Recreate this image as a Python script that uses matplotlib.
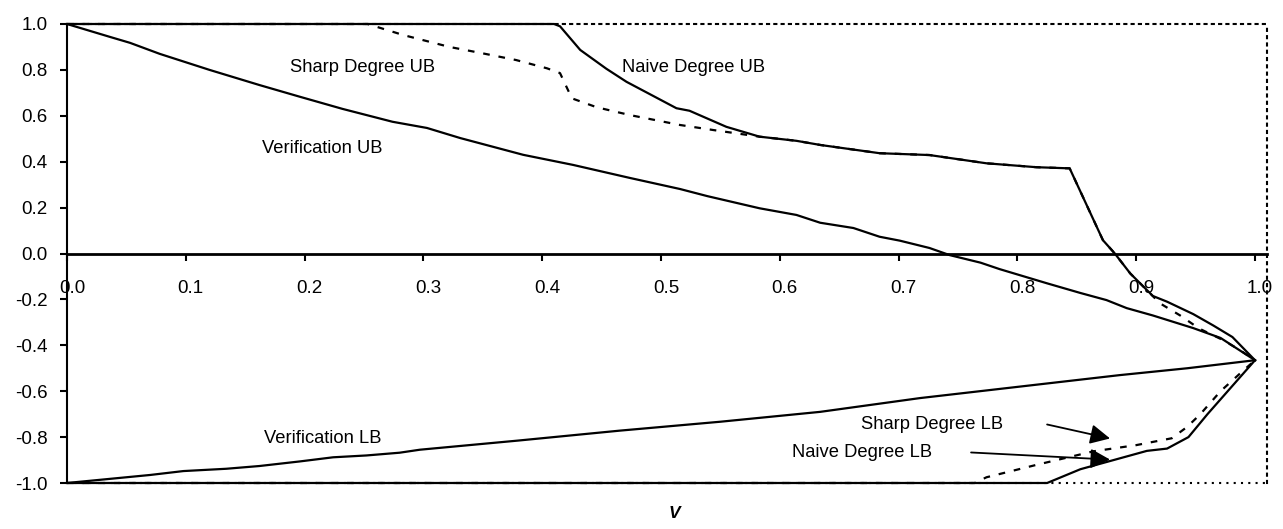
import numpy as np
import matplotlib
matplotlib.use("Agg")
import matplotlib.pyplot as plt
from matplotlib.transforms import ScaledTranslation

plt.rcParams['font.family'] = ['Liberation Sans', 'DejaVu Sans']
plt.rcParams['axes.unicode_minus'] = False

# Datos
v_ver_ub = [0, 0.036, 0.053, 0.078, 0.12, 0.162, 0.196, 0.232, 0.274, 0.303, 0.331, 0.384, 0.426,
            0.474, 0.516, 0.539, 0.583, 0.614, 0.634, 0.662, 0.684, 0.701, 0.726, 0.743, 0.769,
            0.785, 0.825, 0.853, 0.875, 0.892, 0.914, 0.948, 0.971, 1.0]
ver_ub = [1.0, 0.944, 0.918, 0.87, 0.80, 0.734, 0.683, 0.63, 0.574, 0.547, 0.503, 0.43, 0.386,
          0.329, 0.281, 0.25, 0.197, 0.168, 0.134, 0.111, 0.073, 0.056, 0.024, -0.007, -0.04,
          -0.068, -0.13, -0.172, -0.203, -0.238, -0.27, -0.325, -0.368, -0.465]

v_ver_lb = [0, 0.028, 0.07, 0.098, 0.134, 0.162, 0.196, 0.224, 0.252, 0.28, 0.297, 0.38, 0.465,
            0.55, 0.634, 0.718, 0.802, 0.886, 0.943, 1.0]
ver_lb = [-1.0, -0.986, -0.965, -0.948, -0.938, -0.926, -0.906, -0.888, -0.88, -0.868, -0.855,
          -0.815, -0.772, -0.733, -0.69, -0.63, -0.58, -0.53, -0.50, -0.465]

v_naive_ub = [0, 0.41, 0.415, 0.432, 0.454, 0.471, 0.513, 0.524, 0.555, 0.583, 0.614, 0.634, 0.684,
              0.726, 0.774, 0.816, 0.844, 0.872, 0.882, 0.895, 0.914, 0.926, 0.948, 0.965, 0.981, 1.0]
naive_ub = [1.0, 1.0, 0.99, 0.887, 0.805, 0.748, 0.633, 0.622, 0.552, 0.509, 0.491, 0.473, 0.437,
            0.429, 0.393, 0.376, 0.371, 0.058, 0.0, -0.087, -0.185, -0.21, -0.264, -0.314, -0.364, -0.465]

v_sharp_ub = [0, 0.253, 0.283, 0.322, 0.35, 0.378, 0.404, 0.415, 0.425, 0.446, 0.474, 0.516, 0.544,
              0.583, 0.614, 0.634, 0.684, 0.726, 0.774, 0.816, 0.844, 0.872, 0.882, 0.895, 0.92,
              0.937, 0.953, 0.973, 0.987, 1.0]
sharp_ub = [1.0, 1.0, 0.952, 0.90, 0.872, 0.843, 0.807, 0.786, 0.676, 0.637, 0.603, 0.56, 0.538,
            0.509, 0.491, 0.473, 0.437, 0.429, 0.393, 0.376, 0.371, 0.058, 0.0, -0.087, -0.217,
            -0.27, -0.327, -0.377, -0.42, -0.465]

v_sharp_lb = [0, 0.764, 0.774, 0.816, 0.864, 0.9, 0.93, 0.943, 0.954, 0.971, 0.988, 1.0]
sharp_lb = [-1.0, -1.0, -0.975, -0.921, -0.862, -0.835, -0.805, -0.755, -0.70, -0.60, -0.52, -0.465]

v_naive_lb = [0, 0.825, 0.853, 0.881, 0.909, 0.926, 0.944, 0.96, 1.0]
naive_lb = [-1.0, -1.0, -0.94, -0.90, -0.86, -0.85, -0.80, -0.70, -0.465]

x_ticks = [0.0, 0.1, 0.2, 0.3, 0.4, 0.5, 0.6, 0.7, 0.8, 0.9, 1.0]
y_ticks = [-1.0, -0.8, -0.6, -0.4, -0.2, 0.0, 0.2, 0.4, 0.6, 0.8, 1.0]

# Etiquetas: (texto, x, y)
etiquetas = [("Sharp Degree UB", 0.249, 0.81),
             ("Naive Degree UB", 0.527, 0.81),
             ("Verification UB", 0.215, 0.457),
             ("Verification LB", 0.215, -0.806),
             ("Sharp Degree LB", 0.728, -0.747),
             ("Naive Degree LB", 0.669, -0.866)]

# Flechas: (inicio, punta)
flechas = [((0.825, -0.745), (0.878, -0.806)),
           ((0.761, -0.867), (0.878, -0.898))]

fig = plt.figure(figsize=(12.83, 5.29), dpi=100)
ax = fig.add_axes([67/1283, 46/529, 1200/1283, 459/529])

ax.set_xlim(0, 1.0101)
ax.set_ylim(-1, 1)

# Marco punteado
for s in ['top', 'right']:
    ax.spines[s].set_linestyle((0, (1, 2.5)))
    ax.spines[s].set_linewidth(1.5)
ax.axhline(-1, color='black', lw=1.5, ls=(0, (1, 2.5)), clip_on=False, zorder=1)
ax.spines['left'].set_linewidth(1.5)
ax.spines['bottom'].set_position(('data', 0))
ax.spines['bottom'].set_linewidth(2)

# Curvas
lw = 1.6
ax.plot(v_ver_ub, ver_ub, color='black', lw=lw, zorder=3)
ax.plot(v_ver_lb, ver_lb, color='black', lw=lw, zorder=3)
ax.plot(v_naive_ub, naive_ub, color='black', lw=lw, zorder=3, clip_on=False)
ax.plot(v_naive_lb, naive_lb, color='black', lw=lw, zorder=3, clip_on=False)
ax.plot(v_sharp_ub, sharp_ub, color='black', lw=lw, ls=(0, (3, 4)), zorder=2, clip_on=False)
ax.plot(v_sharp_lb, sharp_lb, color='black', lw=lw, ls=(0, (3, 4)), zorder=2, clip_on=False)

# Ejes
ax.set_xticks(x_ticks)
ax.set_xticklabels(["%.1f" % t for t in x_ticks])
ax.set_yticks(y_ticks)
ax.set_yticklabels(["%.1f" % t for t in y_ticks])
ax.tick_params(axis='x', direction='out', length=5, width=1.5, pad=14.4, labelsize=13.5)
ax.tick_params(axis='y', direction='out', length=5, width=1.5, pad=9, labelsize=13.5)
for lab in ax.get_xticklabels():
    lab.set_transform(lab.get_transform() + ScaledTranslation(5/100, 0, fig.dpi_scale_trans))

for texto, x, y in etiquetas:
    ax.text(x, y, texto, ha='center', va='center', fontsize=13.2)

for (x0, y0), (x1, y1) in flechas:
    ax.annotate("", xy=(x1, y1), xytext=(x0, y0),
                arrowprops=dict(arrowstyle='-|>,head_length=0.8,head_width=0.4',
                                mutation_scale=15, color='black', lw=1.3,
                                shrinkA=0, shrinkB=0))

fig.text(674/1283, 1 - 513/529, "V", ha='center', va='center', fontsize=12.5,
         fontweight='bold', fontstyle='italic')

fig.savefig("out.png", dpi=100)
